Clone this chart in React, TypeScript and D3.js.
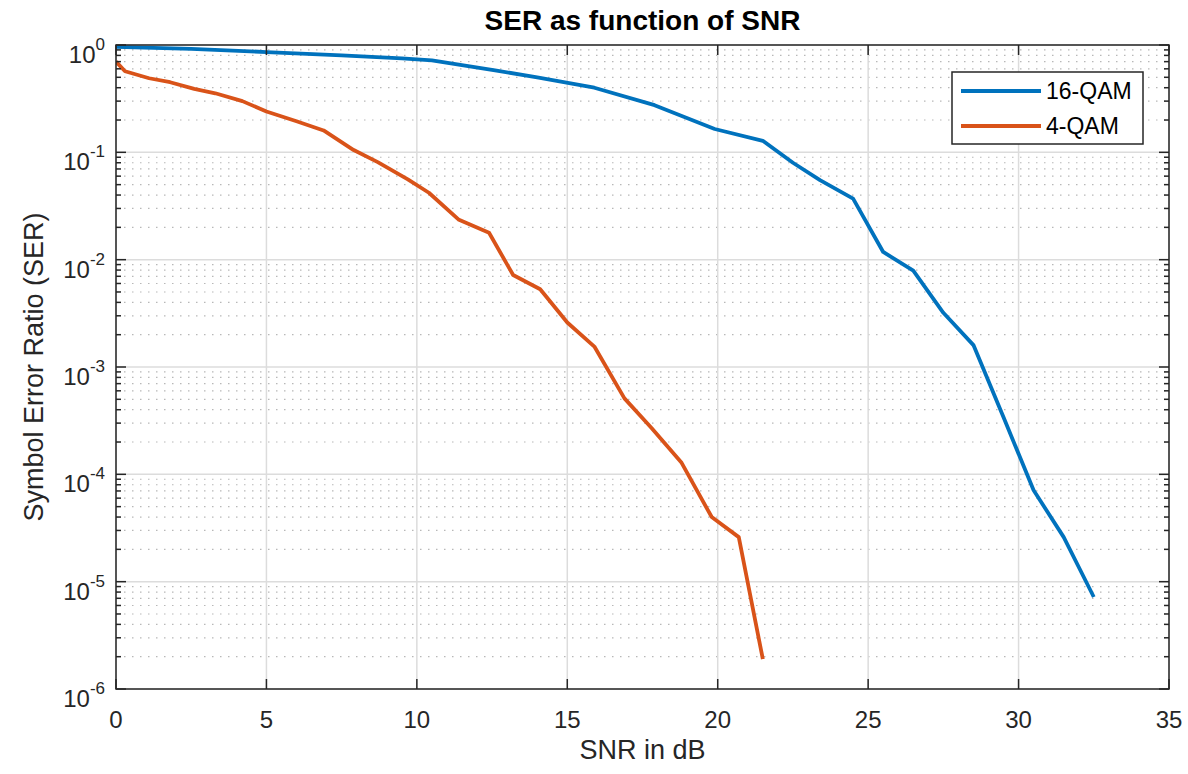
import React from "react";
import * as d3 from "d3";

const snr16 = [0, 2.5, 5, 7.5, 9.5, 10.5, 12.6, 14, 15.9, 17.9, 19.9, 21.5, 22.5, 23.4, 24.5, 25.5, 26.5, 27.5, 28.5, 29.5, 30.5, 31.5, 32.5];
const ser16 = [0.96, 0.92, 0.86, 0.8, 0.75, 0.72, 0.58, 0.5, 0.4, 0.275, 0.165, 0.128, 0.08, 0.055, 0.037, 0.0118, 0.0079, 0.0032, 0.0016, 0.00034, 0.000071, 0.000026, 0.0000072];

const snr4 = [0, 0.3, 1.1, 1.8, 2.6, 3.3, 4.2, 5.0, 6.0, 6.9, 7.9, 8.7, 9.7, 10.4, 11.4, 12.4, 13.2, 14.1, 15.0, 15.9, 16.9, 17.8, 18.8, 19.8, 20.7, 21.5];
const ser4 = [0.7, 0.57, 0.49, 0.45, 0.39, 0.355, 0.3, 0.24, 0.195, 0.16, 0.105, 0.081, 0.056, 0.042, 0.0235, 0.0178, 0.0072, 0.0053, 0.0026, 0.00155, 0.00051, 0.00027, 0.000128, 0.00004, 0.000026, 0.0000019];

const xTicks = [0, 5, 10, 15, 20, 25, 30, 35];
const yExponents = [0, -1, -2, -3, -4, -5, -6];

const seriesNames = ["16-QAM", "4-QAM"];
const seriesColors = ["#0072BD", "#D95319"];

const W = 1188;
const H = 774;
const L = 116, R = 1169, T = 45, B = 689;
const FONT = "'Liberation Sans', Arial, Helvetica, sans-serif";
const AX = "#262626";

export default function App() {
  const x = d3.scaleLinear().domain([0, 35]).range([L, R]);
  const y = d3.scaleLog().domain([1e-6, 1]).range([B, T]);
  const line = d3
    .line<[number, number]>()
    .x((d) => x(d[0]))
    .y((d) => y(d[1]));

  const data16: [number, number][] = snr16.map((s, i) => [s, ser16[i]]);
  const data4: [number, number][] = snr4.map((s, i) => [s, ser4[i]]);

  const minor: number[] = [];
  for (let e = -6; e < 0; e++) {
    for (let m = 2; m <= 9; m++) minor.push(m * Math.pow(10, e));
  }

  return (
    <svg
      width={W}
      height={H}
      style={{ position: "absolute", left: 0, top: 0, background: "#fff" }}
      fontFamily={FONT}
    >
      <rect x={0} y={0} width={W} height={H} fill="#fff" />
      {minor.map((v, i) => (
        <line
          key={"mg" + i}
          x1={L}
          x2={R}
          y1={y(v)}
          y2={y(v)}
          stroke="#b8b8b8"
          strokeWidth={1.2}
          strokeDasharray="1.5 6.5"
        />
      ))}
      {yExponents.map((e) => (
        <line key={"gy" + e} x1={L} x2={R} y1={y(Math.pow(10, e))} y2={y(Math.pow(10, e))} stroke="#dcdcdc" strokeWidth={1.5} />
      ))}
      {xTicks.map((t) => (
        <line key={"gx" + t} x1={x(t)} x2={x(t)} y1={T} y2={B} stroke="#dcdcdc" strokeWidth={1.5} />
      ))}

      <defs>
        <clipPath id="clip">
          <rect x={L} y={T} width={R - L} height={B - T} />
        </clipPath>
      </defs>
      <g clipPath="url(#clip)">
        <path d={line(data16) || ""} fill="none" stroke={seriesColors[0]} strokeWidth={3.8} strokeLinejoin="round" />
        <path d={line(data4) || ""} fill="none" stroke={seriesColors[1]} strokeWidth={3.8} strokeLinejoin="round" />
      </g>

      <rect x={L} y={T} width={R - L} height={B - T} fill="none" stroke={AX} strokeWidth={1.5} />

      {xTicks.map((t) => (
        <g key={"xt" + t}>
          <line x1={x(t)} x2={x(t)} y1={B} y2={B - 10} stroke={AX} strokeWidth={1.5} />
          <line x1={x(t)} x2={x(t)} y1={T} y2={T + 10} stroke={AX} strokeWidth={1.5} />
          <text x={x(t)} y={728} textAnchor="middle" fontSize={24} fill={AX}>
            {t}
          </text>
        </g>
      ))}

      {yExponents.map((e) => {
        const yy = y(Math.pow(10, e));
        return (
          <g key={"yt" + e}>
            <line x1={L} x2={L + 10} y1={yy} y2={yy} stroke={AX} strokeWidth={1.5} />
            <line x1={R} x2={R - 10} y1={yy} y2={yy} stroke={AX} strokeWidth={1.5} />
            <text x={105} y={yy + 18} textAnchor="end" fontSize={24} fill={AX}>
              10
              <tspan fontSize={17} dy={-13}>
                {String(e)}
              </tspan>
            </text>
          </g>
        );
      })}
      {minor.map((v, i) => (
        <g key={"mt" + i}>
          <line x1={L} x2={L + 5} y1={y(v)} y2={y(v)} stroke={AX} strokeWidth={1.5} />
          <line x1={R} x2={R - 5} y1={y(v)} y2={y(v)} stroke={AX} strokeWidth={1.5} />
        </g>
      ))}

      <text x={(L + R) / 2} y={30} textAnchor="middle" fontSize={28} fontWeight="bold" fill="#000">
        SER as function of SNR
      </text>
      <text x={(L + R) / 2} y={759} textAnchor="middle" fontSize={27} fill={AX}>
        SNR in dB
      </text>
      <text transform={`translate(43, ${(T + B) / 2}) rotate(-90)`} textAnchor="middle" fontSize={27} fill={AX}>
        Symbol Error Ratio (SER)
      </text>

      <rect x={952} y={72} width={191} height={72} fill="#fff" stroke={AX} strokeWidth={1.5} />
      {seriesNames.map((n, i) => (
        <g key={n}>
          <line x1={961} x2={1041} y1={91 + i * 35} y2={91 + i * 35} stroke={seriesColors[i]} strokeWidth={3.8} />
          <text x={1046} y={99 + i * 35} fontSize={23} fill="#000">
            {n}
          </text>
        </g>
      ))}
    </svg>
  );
}
